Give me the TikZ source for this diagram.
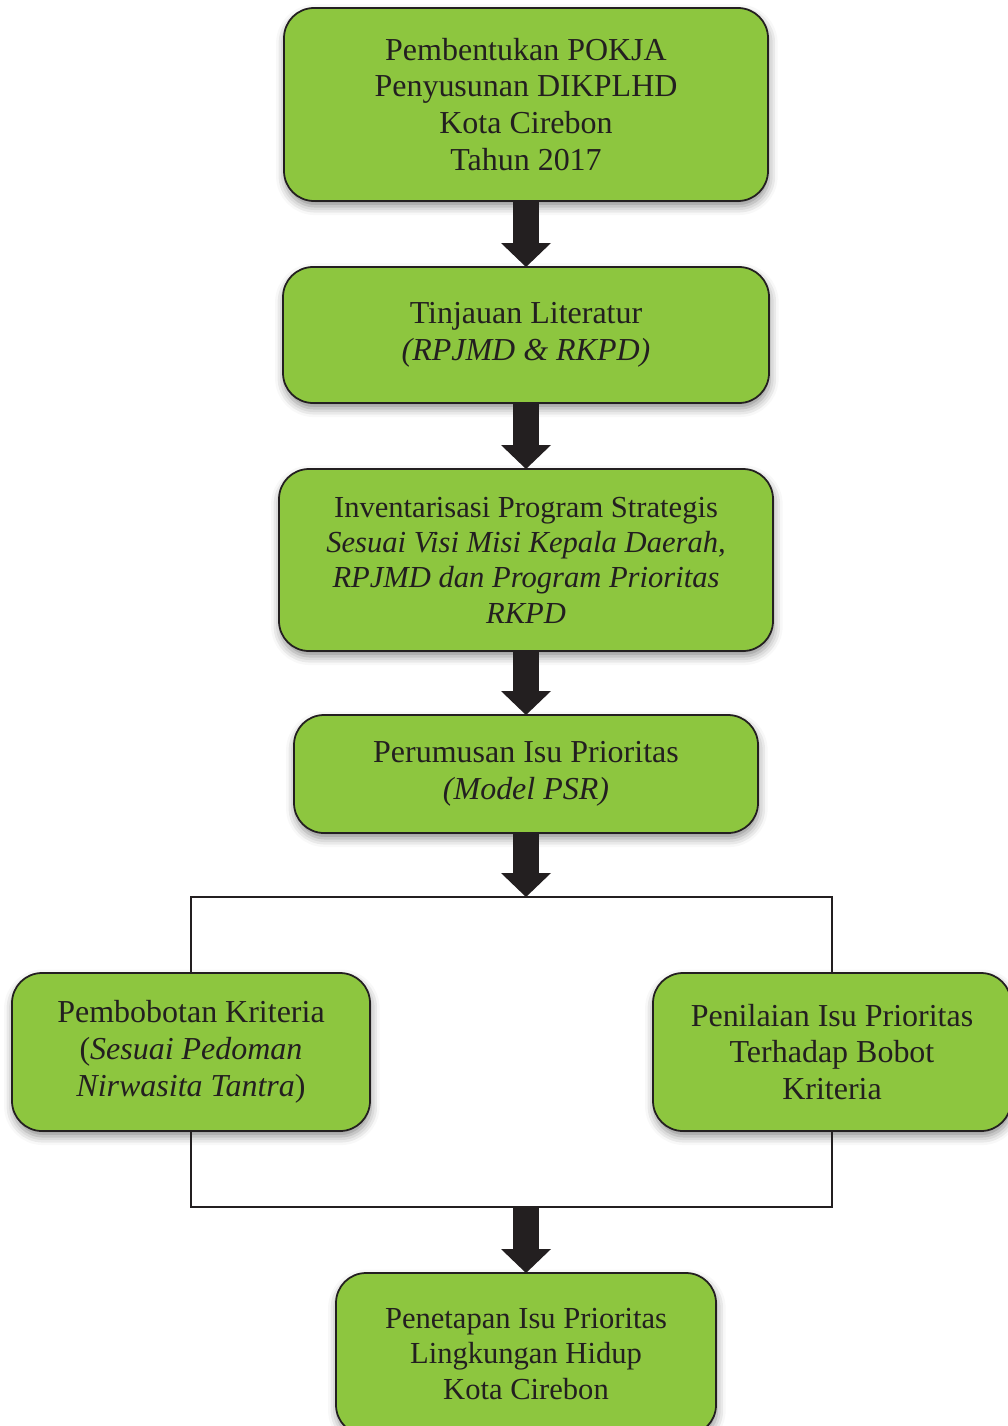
\documentclass[tikz,border=0pt]{standalone}
\usepackage{fontspec}
\setmainfont{Liberation Serif}
\usetikzlibrary{shapes, positioning, calc, arrows.meta, shadows.blur}
\definecolor{leaf}{RGB}{141,198,63}
\definecolor{ink}{RGB}{35,31,32}

\begin{document}
\begin{tikzpicture}[stage/.style={rectangle, rounded corners=.6cm, draw=ink, line width=1pt, outer sep=0pt, fill=leaf, align=center, text=ink, font=\fontsize{18.2}{21}\selectfont, minimum width=#1, blur shadow={shadow xshift=.5pt, shadow yshift=-3pt, shadow blur radius=5pt, shadow opacity=45}}, small/.style={font=\fontsize{17.4}{20.1}\selectfont}, flow/.style={draw=ink, line width=.52cm, -{Triangle[width=1cm, length=.48cm, line width=0pt]}}, wire/.style={draw=ink, line width=.8pt}]

\useasboundingbox (0,0) rectangle (20.14,-28.52);

% STAGES

\node [stage=9.68cm, minimum height=3.86cm] (form) at (10.52,-2.09)
{Pembentukan POKJA\\ Penyusunan DIKPLHD\\ Kota Cirebon\\ Tahun 2017};

\node [stage=9.72cm, minimum height=2.72cm, below=1.32cm of form] (lit)
{Tinjauan Literatur\\ \textit{(RPJMD \& RKPD)}};

\node [stage=9.88cm, small, minimum height=3.64cm, below=1.32cm of lit] (inv)
{Inventarisasi Program Strategis\\ \textit{Sesuai Visi Misi Kepala Daerah,}\\ \textit{RPJMD dan Program Prioritas}\\ \textit{RKPD}};

\node [stage=9.28cm, minimum height=2.36cm, below=1.28cm of inv] (isu)
{Perumusan Isu Prioritas\\ \textit{(Model PSR)}};

\coordinate [below=1.28cm of isu.south] (split);

\node [stage=7.16cm, minimum height=3.16cm] (bobot) at (3.82,-21.04)
{Pembobotan Kriteria\\ (\textit{Sesuai Pedoman}\\ \textit{Nirwasita Tantra})};

\node [stage=7.16cm, minimum height=3.16cm] (nilai) at (16.64,-21.04)
{Penilaian Isu Prioritas\\ Terhadap Bobot\\ Kriteria};

\coordinate (join) at ($(split) + (0,-6.2)$);

\node [stage=7.6cm, small, minimum height=3.24cm, below=1.32cm of join] (final)
{Penetapan Isu Prioritas\\ Lingkungan Hidup\\ Kota Cirebon};

% CONNECTORS

\draw[wire] (bobot.north) |- (split) -| (nilai.north);
\draw[wire] (bobot.south) |- (join) -| (nilai.south);

\draw[flow] (form) -- (lit);
\draw[flow] (lit) -- (inv);
\draw[flow] (inv) -- (isu);
\draw[flow] (isu) -- (split);
\draw[flow] (join) -- (final);

\end{tikzpicture}
\end{document}
